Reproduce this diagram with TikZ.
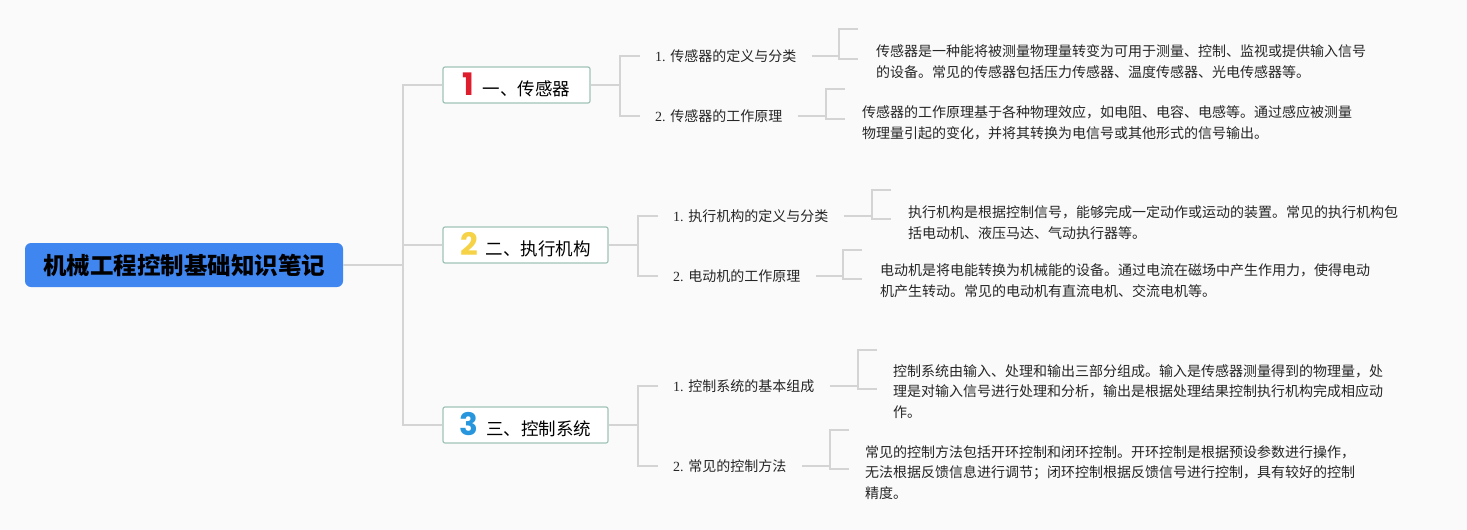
\documentclass[tikz,border=0pt]{standalone}
\usepackage{fontspec}
\setmainfont{Liberation Serif}
\newfontfamily\cjk{Noto Sans CJK SC}
\newfontfamily\numfont{Poppins}
\definecolor{rootblue}{RGB}{64,134,240}
\definecolor{linkgray}{RGB}{212,212,212}
\definecolor{boxedge}{RGB}{160,196,184}
\definecolor{numred}{RGB}{222,30,45}
\definecolor{numyellow}{RGB}{245,210,70}
\definecolor{numblue}{RGB}{40,150,220}
\definecolor{bgcol}{RGB}{250,250,250}
\newcommand{\topicnum}[2]{{\numfont\bfseries\fontsize{31}{31}\selectfont\color{#1}#2}\hspace{8pt}}
\tikzset{
  rootbox/.style={fill=rootblue, rounded corners=6pt, minimum width=318pt, minimum height=44pt,
    inner sep=0pt, font=\cjk\bfseries\fontsize{23.5}{26}\selectfont, text=black},
  topic/.style={draw=boxedge, line width=1.2pt, fill=white, rounded corners=2pt, minimum height=36pt,
    inner sep=0pt, font=\cjk\fontsize{17.5}{20}\selectfont},
  sub/.style={anchor=west, inner sep=0pt, font=\fontsize{14}{17}\selectfont, text=black!85},
  leaf/.style={anchor=base west, align=left, inner sep=0pt, font=\cjk\fontsize{14}{20.5}\selectfont, text=black!85},
  link/.style={draw=linkgray, line width=1.5pt}
}
\begin{document}
\begin{tikzpicture}[x=1pt,y=-1pt]
	\fill[bgcol] (0,0) rectangle (1467,530);
	\useasboundingbox (0,0) rectangle (1467,530);
	% root and topics
	\node[rootbox] (root) at (184,265) {机械工程控制基础知识笔记};
	\node[topic, minimum width=147pt] (b1) at (516.5,85) {\topicnum{numred}{1}一、传感器};
	\node[topic, minimum width=165pt] (b2) at (525.5,245) {\topicnum{numyellow}{2}二、执行机构};
	\node[topic, minimum width=165pt] (b3) at (525.5,425) {\topicnum{numblue}{3}三、控制系统};
	% subtopics
	\node[sub] (s11) at (655,56) {1. {\cjk 传感器的定义与分类}};
	\node[sub] (s12) at (655,116) {2. {\cjk 传感器的工作原理}};
	\node[sub] (s21) at (673,216) {1. {\cjk 执行机构的定义与分类}};
	\node[sub] (s22) at (673,276) {2. {\cjk 电动机的工作原理}};
	\node[sub] (s31) at (673,386) {1. {\cjk 控制系统的基本组成}};
	\node[sub] (s32) at (673,466) {2. {\cjk 常见的控制方法}};
	% leaves
	\node[leaf] (l11) at (876,77) {传感器是一种能将被测量物理量转变为可用于测量、控制、监视或提供输入信号\\的设备。常见的传感器包括压力传感器、温度传感器、光电传感器等。};
	\node[leaf] (l12) at (862,138) {传感器的工作原理基于各种物理效应，如电阻、电容、电感等。通过感应被测量\\物理量引起的变化，并将其转换为电信号或其他形式的信号输出。};
	\node[leaf] (l21) at (908,238) {执行机构是根据控制信号，能够完成一定动作或运动的装置。常见的执行机构包\\括电动机、液压马达、气动执行器等。};
	\node[leaf] (l22) at (880,296) {电动机是将电能转换为机械能的设备。通过电流在磁场中产生作用力，使得电动\\机产生转动。常见的电动机有直流电机、交流电机等。};
	\node[leaf] (l31) at (893,417) {控制系统由输入、处理和输出三部分组成。输入是传感器测量得到的物理量，处\\理是对输入信号进行处理和分析，输出是根据处理结果控制执行机构完成相应动\\作。};
	\node[leaf] (l32) at (865,498) {常见的控制方法包括开环控制和闭环控制。开环控制是根据预设参数进行操作，\\无法根据反馈信息进行调节；闭环控制根据反馈信号进行控制，具有较好的控制\\精度。};
	% root to topics
	\coordinate (t1) at (403,85);
	\coordinate (t3) at (403,425);
	\draw[link] (b1.west) -- (t1) -- (t3) -- (b3.west);
	\draw[link] (root.east) -- (root.east -| t1);
	\draw[link] (b2.west) -- (b2.west -| t1);
	% topics to subtopics
	\coordinate (j1) at (620,85);
	\coordinate (j2) at (638,245);
	\coordinate (j3) at (638,425);
	\draw[link] (b1.east) -- (j1);
	\draw[link] ([xshift=-15pt]s11.west) -| (j1) |- ([xshift=-15pt]s12.west);
	\draw[link] (b2.east) -- (j2);
	\draw[link] ([xshift=-15pt]s21.west) -| (j2) |- ([xshift=-15pt]s22.west);
	\draw[link] (b3.east) -- (j3);
	\draw[link] ([xshift=-15pt]s31.west) -| (j3) |- ([xshift=-15pt]s32.west);
	% subtopics to leaves
	\coordinate (k11) at (839,29);
	\coordinate (k12) at (826,89);
	\coordinate (k21) at (872,190);
	\coordinate (k22) at (843,250);
	\coordinate (k31) at (858,350);
	\coordinate (k32) at (830,430);
	\draw[link] ([xshift=15pt]s11.east) -- (s11.east -| k11);
	\draw[link] ([xshift=19pt]k11) -- (k11) -- ++(0,30) -- ++(19,0);
	\draw[link] ([xshift=15pt]s12.east) -- (s12.east -| k12);
	\draw[link] ([xshift=19pt]k12) -- (k12) -- ++(0,30) -- ++(19,0);
	\draw[link] ([xshift=15pt]s21.east) -- (s21.east -| k21);
	\draw[link] ([xshift=19pt]k21) -- (k21) -- ++(0,29) -- ++(19,0);
	\draw[link] ([xshift=15pt]s22.east) -- (s22.east -| k22);
	\draw[link] ([xshift=19pt]k22) -- (k22) -- ++(0,29) -- ++(19,0);
	\draw[link] ([xshift=15pt]s31.east) -- (s31.east -| k31);
	\draw[link] ([xshift=19pt]k31) -- (k31) -- ++(0,39) -- ++(19,0);
	\draw[link] ([xshift=15pt]s32.east) -- (s32.east -| k32);
	\draw[link] ([xshift=19pt]k32) -- (k32) -- ++(0,39) -- ++(19,0);
\end{tikzpicture}
\end{document}
